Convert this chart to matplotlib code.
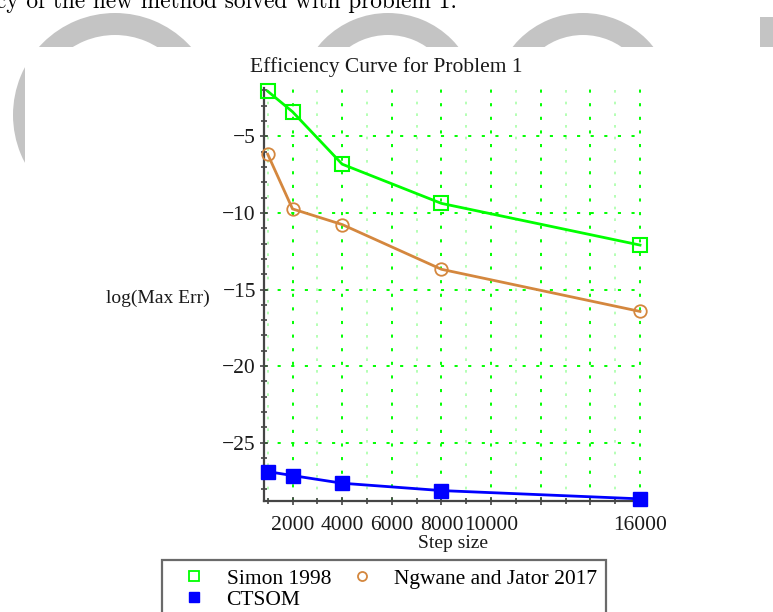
import matplotlib
matplotlib.use("Agg")
import matplotlib.pyplot as plt
from matplotlib.patches import Wedge, Rectangle
from matplotlib.ticker import FixedLocator, FixedFormatter, MultipleLocator
from matplotlib.lines import Line2D

# Step sizes and log of the maximum error for each method
steps = [1000, 2000, 4000, 8000, 16000]
simon = [-2.06, -3.40, -6.82, -9.38, -12.10]
ngwane = [-6.17, -9.74, -10.76, -13.68, -16.43]
ctsom = [-26.88, -27.14, -27.64, -28.12, -28.66]

series_names = ["Simon 1998", "Ngwane and Jator 2017", "CTSOM"]
x_ticks = [2000, 4000, 6000, 8000, 10000, 12000, 14000, 16000]
x_tick_labels = ["2000", "4000", "6000", "8000", "10000", "", "", "16000"]
y_ticks = [-25, -20, -15, -10, -5]
y_tick_labels = ["\u221225", "\u221220", "\u221215", "\u221210", "\u22125"]

W, H = 773, 612
fig = plt.figure(figsize=(W / 100, H / 100), dpi=100)
fig.patch.set_facecolor("white")

# page background: running text and faint grey lettering behind the figure
bg = fig.add_axes([0, 0, 1, 1], zorder=-10)
bg.set_xlim(0, W)
bg.set_ylim(H, 0)
bg.axis("off")
grey = "#c4c4c4"
bg.add_patch(Wedge((115, 115), 102, 0, 360, width=22, color=grey, lw=0))
bg.add_patch(Wedge((388, 103), 90, 0, 360, width=22, color=grey, lw=0))
bg.add_patch(Wedge((583, 103), 90, 0, 360, width=22, color=grey, lw=0))
bg.add_patch(Rectangle((760, 17), 20, 40, color=grey, lw=0))
bg.add_patch(Rectangle((25, 47), W, H, color="white", lw=0))
bg.text(-4, 8, "cy of the new method solved with problem 1.", family="cmr10",
        fontsize=16.8, ha="left", va="baseline", color="black")

serif = ["Liberation Serif", "DejaVu Serif"]

# axes frame in pixels
left, right, top, bottom = 264.3, 641, 88, 501
ax = fig.add_axes([left / W, 1 - bottom / H, (right - left) / W, (bottom - top) / H])
ax.set_facecolor("white")
ax.set_xlim(863, 16040)
ax.set_ylim(-28.8, -1.85)

green = "#00ff00"
orange = "#d4873e"
blue = "#0000ff"

ax.plot(steps, simon, color=green, lw=2.0, marker="s", ms=9.5, mfc="none",
        mec=green, mew=1.5, zorder=3, clip_on=False)
ax.plot(steps, ngwane, color=orange, lw=2.0, marker="o", ms=9, mfc="none",
        mec=orange, mew=1.3, zorder=3, clip_on=False)
ax.plot(steps, ctsom, color=blue, lw=2.0, marker="s", ms=10, mfc=blue,
        mec=blue, zorder=3, clip_on=False)

ax.xaxis.set_major_locator(FixedLocator(x_ticks))
ax.xaxis.set_major_formatter(FixedFormatter(x_tick_labels))
ax.xaxis.set_minor_locator(MultipleLocator(1000))
ax.yaxis.set_major_locator(FixedLocator(y_ticks))
ax.yaxis.set_major_formatter(FixedFormatter(y_tick_labels))
ax.yaxis.set_minor_locator(MultipleLocator(1))

ax.set_axisbelow(True)
ax.grid(which="major", color=green, linestyle=(0, (1.6, 5.4)), linewidth=1.4)
ax.xaxis.grid(which="minor", color="#a8ffa8", linestyle=(0, (1.6, 5.4)), linewidth=1.2)
ax.yaxis.grid(which="minor", visible=False)

for s in ("top", "right"):
    ax.spines[s].set_visible(False)
for s in ("left", "bottom"):
    ax.spines[s].set_color("#454545")
    ax.spines[s].set_linewidth(1.6)

ax.tick_params(which="both", direction="inout", color="#454545", width=1.2)
ax.tick_params(which="major", length=6)
ax.tick_params(which="minor", length=4)
ax.tick_params(axis="y", pad=3)
ax.tick_params(axis="x", pad=8)
for lab in ax.get_xticklabels() + ax.get_yticklabels():
    lab.set_family(serif)
    lab.set_fontsize(15.5)
    lab.set_color("#1a1a1a")

fig.text(386 / W, 1 - 67 / H, "Efficiency Curve for Problem 1", family=serif,
         fontsize=15.5, ha="center", va="center", color="#1a1a1a")
fig.text(210 / W, 1 - 298 / H, "log(Max Err)", family=serif, fontsize=14,
         ha="right", va="center", color="#1a1a1a")
fig.text(452.5 / W, 1 - 543 / H, "Step size", family=serif, fontsize=14,
         ha="center", va="center", color="#1a1a1a")

# legend filled column by column: Simon / CTSOM in the first, Ngwane in the second
h_simon = Line2D([], [], ls="none", marker="s", ms=6.5, mfc="none", mec=green, mew=1.3)
h_ngwane = Line2D([], [], ls="none", marker="o", ms=6.5, mfc="none", mec=orange, mew=1.3)
h_ctsom = Line2D([], [], ls="none", marker="s", ms=7.5, mfc=blue, mec=blue)
leg = fig.legend([h_simon, h_ctsom, h_ngwane],
                 [series_names[0], series_names[2], series_names[1]],
                 ncol=2, loc="upper left",
                 bbox_to_anchor=(162 / W, 1 - 560 / H), borderaxespad=0,
                 frameon=True, fancybox=False, prop={"family": serif, "size": 15.5},
                 handlelength=2.2, handletextpad=0.4, columnspacing=0.32,
                 borderpad=0.4, labelspacing=0.05)
leg.get_frame().set_edgecolor("#454545")
leg.get_frame().set_linewidth(1.6)

fig.savefig("out.png", dpi=100)
